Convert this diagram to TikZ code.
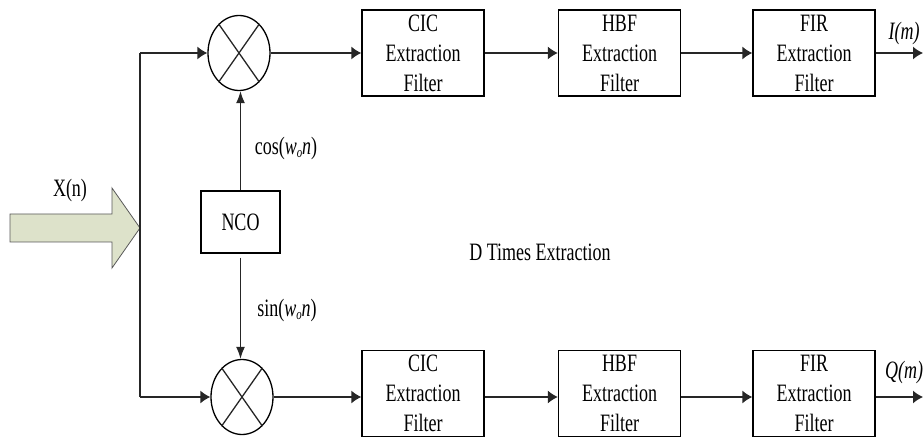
\documentclass[tikz,border=0pt]{standalone}
\usepackage{fontspec}
\setmainfont[FakeStretch=0.72]{Liberation Serif}
\usetikzlibrary{shapes.geometric,arrows.meta}
\begin{document}
\begin{tikzpicture}[x=1pt,y=-1pt,
  every node/.style={font=\fontsize{25}{30}\selectfont},
  wire/.style={line width=1.3pt,draw=black!85},
  hx/.style={wire,-{Latex[length=10pt,width=13pt]}},
  vx/.style={wire,-{Latex[length=12pt,width=9pt]}},
  filterbox/.style={draw,line width=1.3pt,minimum width=122pt,minimum height=86pt,align=center,inner sep=0pt},
  mixer/.style={draw,ellipse,line width=1.3pt,minimum width=62pt,minimum height=75pt,inner sep=0pt},
  ncobox/.style={draw,line width=1.3pt,minimum width=79pt,minimum height=62pt,inner sep=0pt},
  label/.style={inner sep=0pt}]
\useasboundingbox (0,0) rectangle (923,438);

% input signal arrow
\draw[draw=black!65,line width=0.8pt,fill={rgb,255:red,221;green,226;blue,202}]
  (10,214) -- (112,214) -- (112,188) -- (140,228) -- (112,268) -- (112,242) -- (10,242) -- cycle;
\node[label] (xin) at (70,190) {X(n)};

% splitting bus
\coordinate (tapT) at (140,53);
\coordinate (tapB) at (140,397);
\draw[wire] (tapT) -- (tapB);

% mixers
\node[mixer] (mix1) at (239,53) {};
\node[mixer] (mix2) at (242,397) {};
\foreach \m in {mix1,mix2}{
  \draw[wire] (\m.55) -- (\m.235);
  \draw[wire] (\m.125) -- (\m.305);
}
\draw[hx] (tapT) -- (mix1.west);
\draw[hx] (tapB) -- (mix2.west);

% oscillator
\node[ncobox] (nco) at (240.5,222) {NCO};
\draw[vx] (nco.north) -- (nco.north |- mix1.south);
\draw[vx] ([yshift=-4pt]nco.south) -- (nco.south |- mix2.north);
\node[label] (cosl) at (286,148) {cos(\textit{w}\raisebox{-0.3ex}{\fontsize{15}{15}\selectfont\textit{o}}\textit{n})};
\node[label] (sinl) at (287,310) {sin(\textit{w}\raisebox{-0.3ex}{\fontsize{15}{15}\selectfont\textit{o}}\textit{n})};

\node[label] (dlab) at (540,252) {D Times Extraction};

% I branch
\node[filterbox] (cic1) at (423,53) {CIC\\Extraction\\Filter};
\node[filterbox] (hbf1) at (619.5,53) {HBF\\Extraction\\Filter};
\node[filterbox] (fir1) at (814,53) {FIR\\Extraction\\Filter};
\coordinate (iout) at (923,53);
\draw[hx] (mix1.east) -- (cic1.west);
\draw[hx] (cic1.east) -- (hbf1.west);
\draw[hx] (hbf1.east) -- (fir1.west);
\draw[hx] (fir1.east) -- (iout);
\node[label] (il) at (904,33) {\textit{I(m)}};

% Q branch
\node[filterbox] (cic2) at (423,393.5) {CIC\\Extraction\\Filter};
\node[filterbox] (hbf2) at (619.5,393.5) {HBF\\Extraction\\Filter};
\node[filterbox] (fir2) at (814,393.5) {FIR\\Extraction\\Filter};
\coordinate (qout) at (923,397);
\draw[hx] (mix2.east) -- (mix2.east -| cic2.west);
\draw[hx] (cic2.east |- mix2.east) -- (mix2.east -| hbf2.west);
\draw[hx] (hbf2.east |- mix2.east) -- (mix2.east -| fir2.west);
\draw[hx] (fir2.east |- qout) -- (qout);
\node[label] (ql) at (904,372) {\textit{Q(m)}};
\end{tikzpicture}
\end{document}
